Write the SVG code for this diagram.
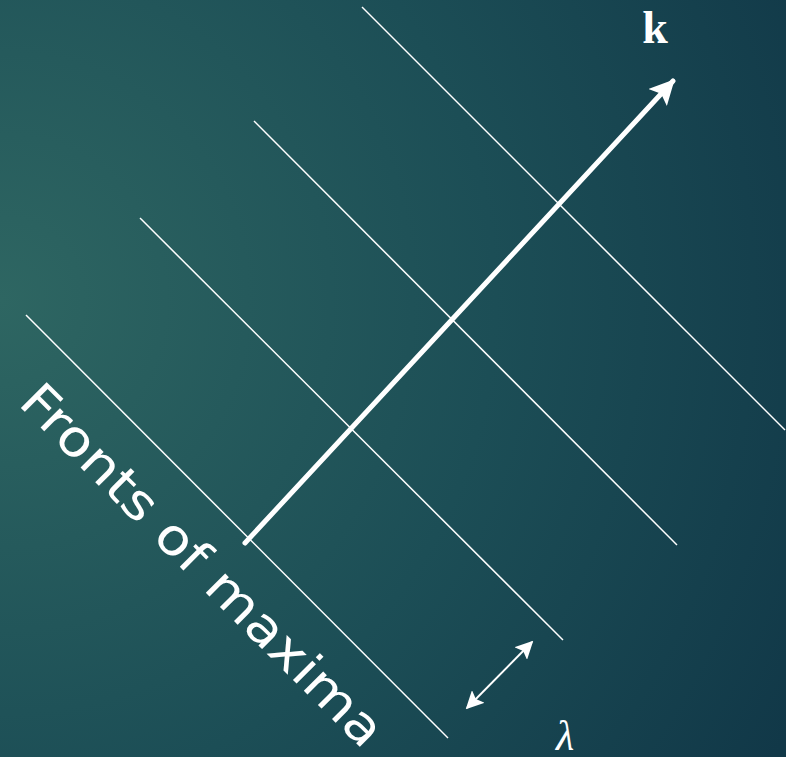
<svg xmlns="http://www.w3.org/2000/svg" width="786" height="757" viewBox="0 0 786 757">
<defs>
<radialGradient id="bg" cx="0" cy="300" r="900" gradientUnits="userSpaceOnUse">
<stop offset="0" stop-color="#2e6662"/>
<stop offset="0.55" stop-color="#1c4e56"/>
<stop offset="1" stop-color="#113848"/>
</radialGradient>
<marker id="ah" viewBox="0 0 10 10" refX="9" refY="5" markerWidth="5" markerHeight="5" orient="auto" markerUnits="strokeWidth">
<path d="M0,0 L10,5 L0,10 L2,5 Z" fill="#fff"/>
</marker>
<marker id="ah2" viewBox="0 0 10 10" refX="9" refY="5" markerWidth="9" markerHeight="9" orient="auto-start-reverse" markerUnits="strokeWidth">
<path d="M0,0 L10,5 L0,10 L2,5 Z" fill="#fff"/>
</marker>
</defs>
<style>
.front{stroke:#fff;stroke-width:1.5;fill:none}
.lbl{fill:#fff}
</style>
<rect width="786" height="757" fill="url(#bg)"/>
<g id="connectors">
<g id="fronts">
<line class="front" x1="26" y1="315" x2="448" y2="738"/>
<line class="front" x1="140" y1="218" x2="563" y2="640"/>
<line class="front" x1="254" y1="121" x2="677" y2="545"/>
<line class="front" x1="362" y1="7" x2="785" y2="430"/>
</g>
<line id="k-arrow" x1="245" y1="543" x2="673" y2="81" stroke="#fff" stroke-width="5" stroke-linecap="round" marker-end="url(#ah)"/>
<line id="lambda-arrow" x1="467" y1="708" x2="532" y2="642" stroke="#fff" stroke-width="2" marker-start="url(#ah2)" marker-end="url(#ah2)"/>
</g>
<g id="label-k"><text class="lbl" x="655" y="43" text-anchor="middle" font-family="Liberation Serif, serif" font-weight="bold" font-size="46">k</text></g>
<g id="label-lambda"><text class="lbl" x="565" y="750" text-anchor="middle" font-family="Liberation Serif, serif" font-style="italic" font-size="42">λ</text></g>
<g id="label-fronts"><text class="lbl" x="17" y="404" transform="rotate(45 17 404)" font-family="DejaVu Sans, sans-serif" font-size="50" textLength="490" lengthAdjust="spacingAndGlyphs">Fronts of maxima</text></g>
</svg>
